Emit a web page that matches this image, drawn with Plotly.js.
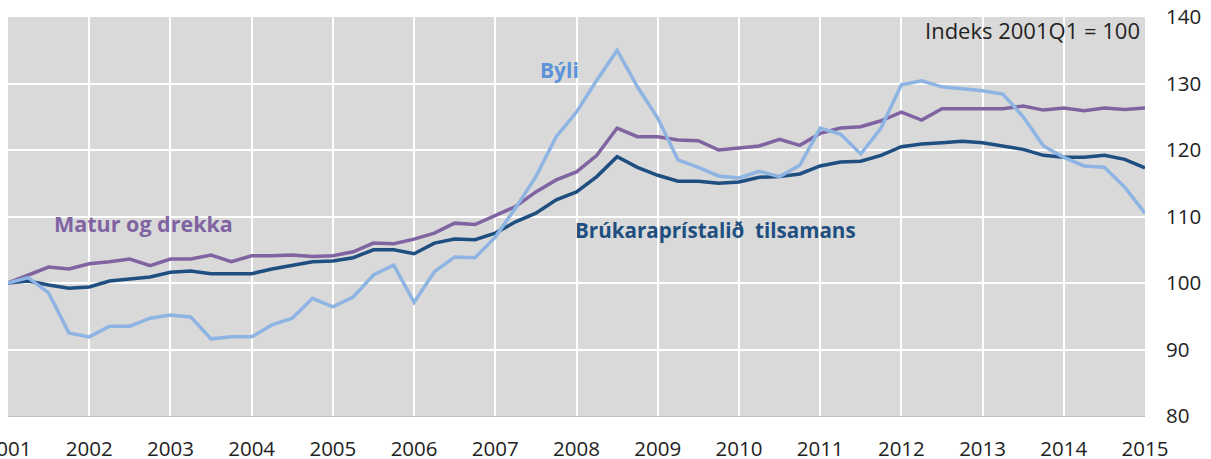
<!DOCTYPE html>
<html>
<head>
<meta charset="utf-8">
<script src="https://cdn.plot.ly/plotly-3.0.1.min.js"></script>
<style>
  html, body { margin: 0; padding: 0; background: #ffffff; overflow: hidden; }
  #chart { width: 1211px; height: 459px; }
</style>
</head>
<body>
<div id="chart"></div>
<script>
// Quarterly index, 2001Q1 = 100 (2001Q1 ... 2015Q1)
const startYear = 2001;
const yearTicks = [2001, 2002, 2003, 2004, 2005, 2006, 2007, 2008, 2009, 2010, 2011, 2012, 2013, 2014, 2015];
const yTicks = [80, 90, 100, 110, 120, 130, 140];

const brukaraprisstalid = [
  100.0, 100.3, 99.7, 99.2, 99.4, 100.3, 100.6, 100.9,
  101.6, 101.8, 101.4, 101.4, 101.4, 102.1, 102.6, 103.2,
  103.3, 103.8, 105.0, 105.0, 104.4, 106.0, 106.6, 106.5,
  107.5, 109.2, 110.5, 112.5, 113.7, 116.0, 119.0, 117.4,
  116.2, 115.3, 115.3, 115.0, 115.2, 115.9, 116.0, 116.4,
  117.6, 118.2, 118.3, 119.2, 120.5, 120.9, 121.1, 121.3,
  121.1, 120.6, 120.1, 119.2, 118.9, 118.9, 119.2, 118.6,
  117.3
];

const maturOgDrekka = [
  100.0, 101.2, 102.4, 102.1, 102.9, 103.2, 103.6, 102.6,
  103.6, 103.6, 104.2, 103.2, 104.1, 104.1, 104.2, 104.0,
  104.1, 104.7, 106.0, 105.9, 106.6, 107.5, 109.0, 108.8,
  110.2, 111.5, 113.7, 115.5, 116.7, 119.2, 123.3, 122.0,
  122.0, 121.5, 121.4, 120.0, 120.3, 120.6, 121.6, 120.7,
  122.5, 123.3, 123.5, 124.4, 125.7, 124.5, 126.2, 126.2,
  126.2, 126.2, 126.6, 126.0, 126.3, 125.9, 126.3, 126.1,
  126.3
];

const byli = [
  100.0, 100.8, 98.5, 92.5, 91.9, 93.5, 93.5, 94.7,
  95.2, 94.9, 91.6, 91.9, 91.9, 93.7, 94.7, 97.7,
  96.4, 97.9, 101.2, 102.7, 97.1, 101.7, 103.9, 103.8,
  106.9, 111.3, 116.0, 122.0, 125.7, 130.5, 135.0, 129.5,
  124.8, 118.5, 117.4, 116.1, 115.8, 116.8, 116.0, 117.7,
  123.3, 122.4, 119.4, 123.3, 129.8, 130.4, 129.5, 129.2,
  128.9, 128.4, 125.0, 120.6, 118.9, 117.6, 117.4, 114.4,
  110.5
];

const names = {
  brukara: "Brúkaraprístalið  tilsamans",
  matur: "Matur og drekka",
  byli: "Býli",
  index: "Indeks 2001Q1 = 100"
};

const colors = {
  brukara: "#1f4e80",
  matur: "#8064a2",
  byli: "#8db4e2",
  byliText: "#5b93d8"
};

const xq = brukaraprisstalid.map((_, i) => startYear + i / 4);

const traces = [
  { x: xq, y: brukaraprisstalid, type: "scatter", mode: "lines", name: names.brukara,
    line: { color: colors.brukara, width: 3.5 } },
  { x: xq, y: maturOgDrekka, type: "scatter", mode: "lines", name: names.matur,
    line: { color: colors.matur, width: 3.5 } },
  { x: xq, y: byli, type: "scatter", mode: "lines", name: names.byli,
    line: { color: colors.byli, width: 3.5 } }
];

const FONT = "Open Sans, Liberation Sans, Arial, sans-serif";

const layout = {
  width: 1211,
  height: 459,
  margin: { l: 8, r: 66, t: 17, b: 43, pad: 0 },
  paper_bgcolor: "#ffffff",
  plot_bgcolor: "#d9d9d9",
  showlegend: false,
  font: { family: FONT, size: 20, color: "#222222" },
  xaxis: {
    range: [2001, 2015],
    tickmode: "array",
    tickvals: yearTicks,
    ticktext: yearTicks.map(String),
    showgrid: true,
    gridcolor: "#ffffff",
    gridwidth: 2,
    zeroline: false,
    showline: true,
    linecolor: "#bfbfbf",
    linewidth: 1,
    ticks: "",
    ticklabelstandoff: 14,
    ticklabeloverflow: "allow",
    tickfont: { family: FONT, size: 20.5, color: "#222222" }
  },
  yaxis: {
    range: [80, 140],
    side: "right",
    tickmode: "array",
    tickvals: yTicks,
    ticktext: yTicks.map(String),
    showgrid: true,
    gridcolor: "#ffffff",
    gridwidth: 2,
    zeroline: false,
    showline: false,
    ticks: "",
    ticklabelstandoff: 20,
    ticklabeloverflow: "allow",
    tickfont: { family: FONT, size: 20.5, color: "#222222" }
  },
  annotations: [
    { x: 2001.54, y: 109.0, xref: "x", yref: "y", xanchor: "left", yanchor: "middle",
      text: "<b>" + names.matur + "</b>", showarrow: false,
      font: { family: FONT, size: 21.5, color: colors.matur } },
    { x: 2007.52, y: 132.0, xref: "x", yref: "y", xanchor: "left", yanchor: "middle",
      text: "<b>" + names.byli + "</b>", showarrow: false,
      font: { family: FONT, size: 21, color: colors.byliText } },
    { x: 2007.96, y: 108.0, xref: "x", yref: "y", xanchor: "left", yanchor: "middle",
      text: "<b>" + names.brukara + "</b>", showarrow: false,
      font: { family: FONT, size: 20.6, color: colors.brukara } },
    { x: 0.997, y: 138.0, xref: "paper", yref: "y", xanchor: "right", yanchor: "middle",
      text: names.index, showarrow: false,
      font: { family: FONT, size: 22, color: "#222222" } }
  ]
};

Plotly.newPlot("chart", traces, layout, { displayModeBar: false, staticPlot: true });
</script>
</body>
</html>
